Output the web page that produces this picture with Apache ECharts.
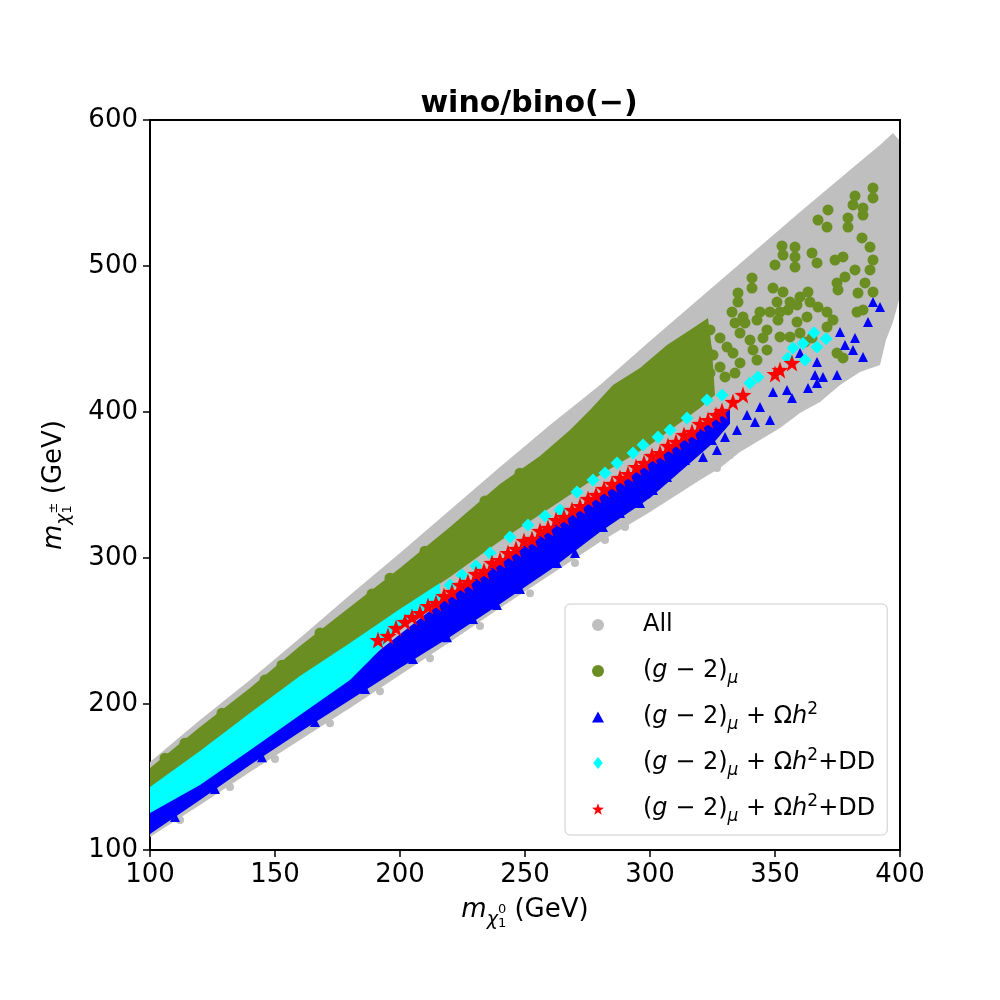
<!DOCTYPE html>
<html>
<head>
<meta charset="utf-8">
<title>wino/bino(−)</title>
<script src="https://cdn.jsdelivr.net/npm/echarts@6/dist/echarts.min.js"></script>
<style>
  html, body { margin: 0; padding: 0; background: #fff; }
  #main { width: 1000px; height: 1000px; }
</style>
</head>
<body>
<div id="main"></div>
<script>
// 各类点的数据（从图上读出，单位 GeV）
// 全部点的密集区边界
var allBand = [
    [100,160.2],[120,189.0],[140,216.4],[160,245.2],[180,274.6],[200,303.4],[220,332.8],[240,362.3],
    [260,391.1],[280,418.5],[300,448.6],[320,478.1],[340,507.5],[360,537.0],[380,565.7],[392,582.9],
    [397.2,591.1],[399.6,586.3],[399.6,545.2],[399.6,476.7],[397.2,461.6],[394.4,449.3],[392,432.2],
    [384,427.4],[376,418.5],[368,406.8],[360,399.3],[352,389.0],[344,380.8],[336,372.6],[328,361.6],
    [320,353.4],[300,331.5],[280,310.9],[260,288.4],[240,265.7],[220,242.5],[200,219.9],[180,197.2],
    [160,175.3],[140,153.4],[120,130.8],[100,108.9]
];
// 全部点中零散的点
var allPts = [
    [393.2,459.6],[394,463.0],[388,449.3],[388.8,442.5],[383.2,431.5],[376,430.1],[372,419.9],
    [356.8,400.0],[337.2,387.7],[332,370.6],[326.8,361.6],[322,363.7],[316,358.9],[300,337.7],[282,312.3],
    [112,120.5],[132,143.1],[150,162.3],[172,186.9],[192,208.8],[212,231.4],[232,253.4],[252,275.9],
    [270,296.5],[290,321.2]
];
// (g-2)mu 密集区边界
var g2Band = [
    [100,156.1],[120,184.2],[140,210.9],[160,239.7],[180,266.4],[200,293.1],[220,321.2],[240,350.7],
    [256,369.8],[268,387.7],[276,401.4],[285.2,418.5],[296,430.1],[306.8,445.9],[316,456.2],[323.2,464.4],
    [324.8,442.5],[326,411.7],[320,402.8],[300,377.4],[280,356.8],[260,334.2],[240,311.6],[220,287.0],
    [200,264.3],[180,240.4],[160,218.5],[140,192.4],[120,167.1],[100,141.7]
];
// (g-2)mu 零散点
var g2Pts = [
    [389.2,553.4],[389.2,546.6],[382,548.0],[381.2,541.8],[385.2,539.7],[385.2,534.9],[371.2,538.4],
    [367.2,531.5],[370.8,526.7],[379.2,532.9],[379.2,526.7],[384.8,519.2],[388,513.0],[352.8,513.7],
    [358,513.0],[353.2,507.5],[358,506.2],[350,500.7],[358,499.3],[364.8,508.9],[366.8,502.1],
    [374,504.1],[377.2,506.2],[389.2,504.1],[388,497.3],[382,497.3],[378,492.5],[340.8,491.8],
    [340.8,484.9],[349.2,484.9],[353.2,482.2],[335.2,481.5],[335.2,475.3],[374.8,488.4],[375.2,483.6],
    [386,488.4],[389.2,482.2],[383.2,481.5],[360,478.8],[363.2,482.2],[350.8,475.3],[356,475.3],
    [358.8,473.3],[355.2,469.9],[352,468.5],[348,468.5],[344,468.5],[337.2,465.1],[332.8,468.5],
    [334,461.0],[338,461.0],[342.8,463.0],[346.8,456.2],[351.2,463.0],[358.8,461.6],[362.8,465.1],
    [364,475.3],[367.2,471.9],[370.8,468.5],[373.2,463.0],[382.8,468.5],[385.2,469.9],[370.8,458.2],
    [324,456.2],[328,450.7],[336,454.1],[340,449.3],[345.2,450.7],[352,451.4],[356,451.4],[360,454.1],
    [362,448.0],[364.8,450.7],[374.8,440.4],[377.2,437.0],[322.8,442.5],[325.2,439.0],[330.8,444.5],
    [333.2,440.4],[341.2,442.5],[346.8,442.5],[342.8,435.6],[336,433.6],[328,430.8],[324,426.7],
    [330,424.0],[334,426.7],[322.8,417.1],
    [106,162.9],[114,173.2],[128.8,193.7],[146,216.4],[152.8,226.6],[168,248.6],[188.8,275.3],
    [196,286.2],[210,304.7],[228,328.0],[234,339.0],[248,358.1]
];
// (g-2)mu + Omega h^2 密集区边界
var ohBand = [
    [100,126.7],[120,145.9],[140,169.8],[160,193.8],[180,217.8],[192,237.0],[220,274.6],[240,297.3],
    [260,320.5],[280,343.1],[300,365.7],[316,383.5],[326,396.0],[332,402.0],[332,392.0],[326,380.0],
    [318,368.0],[300,341.1],[280,317.8],[260,291.8],[240,268.5],[220,245.9],[200,224.6],[180,202.7],
    [160,180.8],[140,158.2],[120,134.2],[100,110.9]
];
// (g-2)mu + Omega h^2 零散点
var ohPts = [
    [281.2,321.2],[288,330.8],[296,337.7],[301.2,346.6],[306.8,355.5],[314,367.1],[321.2,369.2],
    [326.8,374.0],[320,377.4],[324.8,380.8],[330,382.9],[334.8,387.7],[338.8,398.0],[342,393.2],
    [344,403.4],[348,394.5],[349.2,413.7],[354.8,415.1],[356.8,409.6],[363.2,416.4],[366,425.4],
    [369.2,424.0],[366.8,419.9],[374.8,425.4],[366.8,434.3],[360,440.4],[376,454.8],[378,445.9],
    [381.2,442.5],[385.2,437.7],[382,450.7],[387.2,461.6],[389.2,475.3],[392,471.9],
    [110,122.6],[126,141.7],[144.8,163.6],[166,187.6],[186,210.2],[205.2,230.8],[218.8,245.8],
    [229.2,258.2],[238.8,267.8],[248,278.7],[262.8,296.5],[270,303.4]
];
// (g-2)mu + Omega h^2 + DD（青色）密集区边界
var ddBand = [
    [100,143.1],[120,167.8],[140,193.8],[160,219.1],[180,241.7],[200,265.0],[216,282.8],[216,271.2],
    [200,252.0],[188,230.1],[180,216.4],[160,192.4],[140,168.4],[120,144.5],[100,125.3]
];
// (g-2)mu + Omega h^2 + DD（青色）零散点
var ddPts = [
    [220,281.5],[224.8,288.3],[230.4,294.5],[236,303.4],[244,314.4],[251.2,322.6],[258,328.8],
    [264,332.9],[270.8,345.2],[277.2,353.4],[282,358.2],[286.8,365.1],[293.2,371.9],[297.2,377.4],
    [303.2,382.9],[308,387.7],[314.8,395.9],[322.8,408.2],[328.8,411.7],[340,419.9],[343.2,424.0],
    [355.2,437.0],[357.2,443.8],[362,435.6],[366.8,444.5],[365.6,454.2],[370.4,450.1],[361.2,447.0]
];
// (g-2)mu + Omega h^2 + DD（红色星）
var starPts = [
    [191.2,243.8],[195.2,246.6],[198.4,252.1],[202.0,256.2],[204.8,259.6],[208.0,262.3],[211.2,267.1],
    [214.4,269.2],[217.6,274.0],[220.8,276.7],[224.0,281.5],[227.2,283.6],[230.4,289.1],[233.6,291.1],
    [236.8,296.6],[240.0,298.6],[243.2,303.4],[246.4,306.2],[249.6,311.7],[252.8,313.0],[256.0,318.5],
    [259.2,320.6],[262.4,326.0],[265.6,328.1],[268.8,332.9],[272.0,335.6],[275.2,340.4],[278.4,343.2],
    [281.6,347.3],[284.8,350.7],[288.0,354.8],[291.2,357.5],[294.4,362.3],[297.6,365.1],[300.8,369.9],
    [304.0,371.9],[307.2,376.7],[310.4,379.5],[313.6,384.3],[316.8,386.3],[320.0,391.8],[323.2,394.5],
    [326.4,398.0],[328.8,400.7],[333.2,406.9],[337.2,411.7],[350.0,426.0],[352.0,428.8],[356.8,433.6]
];

var xTicks = [100, 400, 50];   // min, max, interval
var yTicks = [100, 600, 100];

var FONT = 'DejaVu Sans';
var STAR = 'path://M0,-10L2.35,-3.24L9.51,-3.09L3.8,1.24L5.88,8.09L0,4L-5.88,8.09L-3.8,1.24L-9.51,-3.09L-2.35,-3.24Z';
var TRI = 'path://M0,-10L10,8L-10,8Z';
var DIAM = 'path://M0,-10L8,0L0,10L-8,0Z';

var legendNames = {
    'All': 'All',
    'g2': '{n|(}{i|g}{n| − 2)}{sub|μ}',
    'g2oh': '{n|(}{i|g}{n| − 2)}{sub|μ}{n| + Ω}{i|h}{sup|2}',
    'g2ohdd': '{n|(}{i|g}{n| − 2)}{sub|μ}{n| + Ω}{i|h}{sup|2}{n|+DD}',
    'g2ohddStar': '{n|(}{i|g}{n| − 2)}{sub|μ}{n| + Ω}{i|h}{sup|2}{n|+DD}'
};

// 密集区用多边形画出
function bandSeries(name, band, color) {
    return {
        name: name,
        type: 'custom',
        clip: true,
        silent: true,
        data: band,
        renderItem: function (params, api) {
            if (params.dataIndex !== 0) return;
            var pts = band.map(function (p) { return api.coord(p); });
            return { type: 'polygon', shape: { points: pts }, style: { fill: color } };
        }
    };
}

function scatterSeries(name, data, symbol, size, color) {
    return {
        name: name,
        type: 'scatter',
        data: data,
        symbol: symbol,
        symbolSize: size,
        clip: true,
        silent: true,
        itemStyle: { color: color, opacity: 1 }
    };
}

var axisNameRich = {
    m: { fontFamily: FONT, fontSize: 26, fontStyle: 'italic', lineHeight: 40, align: 'left', color: '#000' },
    s: { fontFamily: FONT, fontSize: 19, fontStyle: 'italic', lineHeight: 27, verticalAlign: 'bottom', align: 'left', color: '#000' },
    a: { fontFamily: FONT, fontSize: 13, lineHeight: 13, verticalAlign: 'bottom', width: 0, align: 'left', color: '#000' },
    b: { fontFamily: FONT, fontSize: 13, lineHeight: 40, align: 'left', color: '#000' },
    t: { fontFamily: FONT, fontSize: 26, lineHeight: 40, align: 'left', color: '#000' }
};

var chart = echarts.init(document.getElementById('main'));
var option = {
    animation: false,
    backgroundColor: '#fff',
    title: {
        text: 'wino/bino(−)',
        left: 524,
        top: 84,
        textAlign: 'center',
        textStyle: { fontFamily: FONT, fontSize: 30, fontWeight: 'bold', color: '#000' }
    },
    grid: {
        left: 150, right: 100, top: 120, bottom: 150,
        show: true, borderColor: '#000', borderWidth: 2, backgroundColor: 'transparent'
    },
    legend: {
        orient: 'vertical',
        left: 565,
        top: 604,
        padding: [5, 12, 10, 27],
        itemWidth: 12,
        itemHeight: 12,
        itemGap: 14,
        selectedMode: false,
        backgroundColor: '#fff',
        borderColor: '#cccccc',
        borderWidth: 1,
        borderRadius: 5,
        data: [
            { name: 'All', icon: 'circle' },
            { name: 'g2', icon: 'circle' },
            { name: 'g2oh', icon: TRI },
            { name: 'g2ohdd', icon: DIAM },
            { name: 'g2ohddStar', icon: STAR }
        ],
        formatter: function (name) { return '{sp| }' + legendNames[name]; },
        textStyle: {
            fontFamily: FONT, fontSize: 24, lineHeight: 32, color: '#000',
            rich: {
                sp: { width: 34, lineHeight: 32 },
                n: { fontFamily: FONT, fontSize: 24, lineHeight: 32, color: '#000' },
                i: { fontFamily: FONT, fontSize: 24, lineHeight: 32, fontStyle: 'italic', color: '#000' },
                sub: { fontFamily: FONT, fontSize: 17, lineHeight: 17, fontStyle: 'italic', verticalAlign: 'bottom', color: '#000' },
                sup: { fontFamily: FONT, fontSize: 17, lineHeight: 17, verticalAlign: 'top', color: '#000' }
            }
        }
    },
    xAxis: {
        type: 'value',
        min: xTicks[0], max: xTicks[1], interval: xTicks[2],
        name: '{m|m}{s|χ}{a|1}{b|0}{t| (GeV)}',
        nameLocation: 'middle',
        nameGap: 40,
        nameTextStyle: { rich: axisNameRich },
        axisLine: { show: true, lineStyle: { color: '#000', width: 2 } },
        axisTick: { show: true, inside: false, length: 7, lineStyle: { color: '#000', width: 1.5 } },
        axisLabel: { fontFamily: FONT, fontSize: 26, color: '#000', margin: 12 },
        splitLine: { show: false }
    },
    yAxis: {
        type: 'value',
        min: yTicks[0], max: yTicks[1], interval: yTicks[2],
        name: '{m|m}{s|χ}{a|1}{b|±}{t| (GeV)}',
        nameLocation: 'middle',
        nameRotate: 90,
        nameGap: 76,
        nameTextStyle: { rich: axisNameRich },
        axisLine: { show: true, lineStyle: { color: '#000', width: 2 } },
        axisTick: { show: true, inside: false, length: 7, lineStyle: { color: '#000', width: 1.5 } },
        axisLabel: { fontFamily: FONT, fontSize: 26, color: '#000', margin: 12 },
        splitLine: { show: false }
    },
    series: [
        bandSeries('allBand', allBand, '#bfbfbf'),
        scatterSeries('All', allPts, 'circle', 8, '#bfbfbf'),
        bandSeries('g2Band', g2Band, '#6b8e23'),
        scatterSeries('g2', g2Pts, 'circle', 11, '#6b8e23'),
        bandSeries('ohBand', ohBand, '#0000ff'),
        scatterSeries('g2oh', ohPts, 'triangle', 10, '#0000ff'),
        bandSeries('ddBand', ddBand, '#00ffff'),
        scatterSeries('g2ohdd', ddPts, 'diamond', 13, '#00ffff'),
        scatterSeries('g2ohddStar', starPts, STAR, 17, '#ff0000')
    ]
};
chart.setOption(option);
</script>
</body>
</html>
